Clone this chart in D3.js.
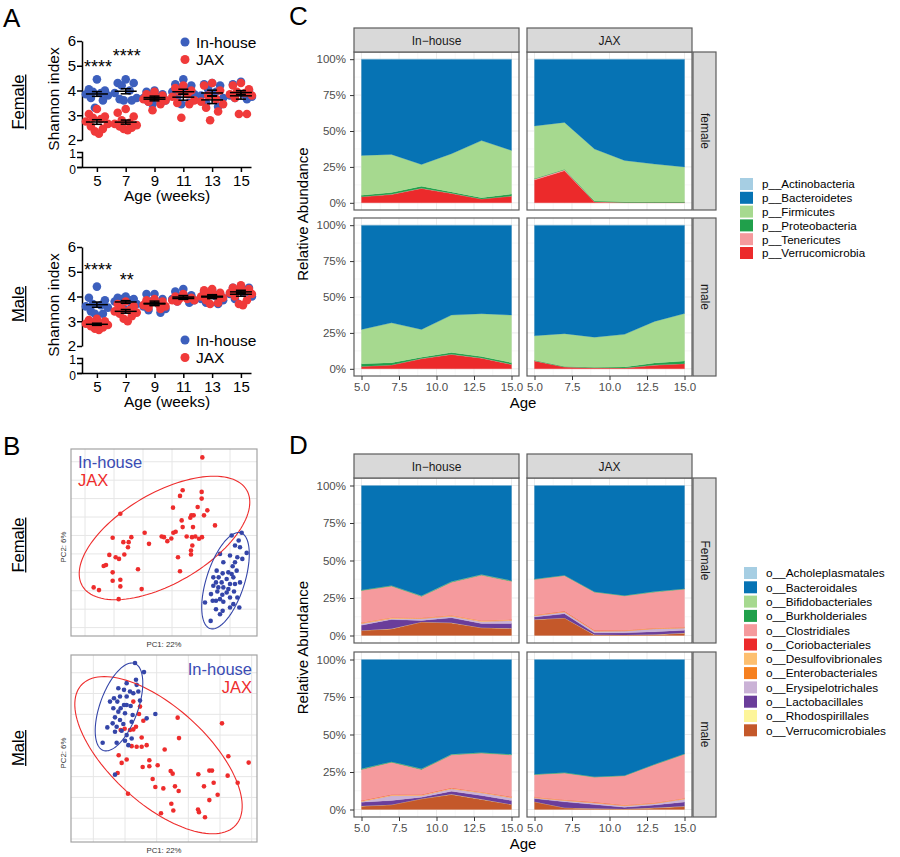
<!DOCTYPE html>
<html>
<head>
<meta charset="utf-8">
<title>Microbiome figure</title>
<script src="https://cdnjs.cloudflare.com/ajax/libs/d3/7.8.5/d3.min.js"></script>
<style>
  body { margin: 0; background: #fff; }
  svg text { font-family: Arial, "Liberation Sans", Helvetica, sans-serif; }
  .axisA path, .axisA line { stroke: #000; stroke-width: 1.5px; }
  .axisA text { font-size: 15px; fill: #000; }
  .axisA.low text { font-size: 12px; }
  .axisC path { display: none; }
  .axisC line { stroke: #333; }
  .axisC text { font-size: 11.5px; fill: #4d4d4d; }
</style>
</head>
<body>
<svg id="figure" width="900" height="857"></svg>
<script>

// ---------------- data ----------------

// Panel A: Shannon index per mouse, one array per week
var weeks = [5, 7, 9, 11, 13, 15];

var shannonFemaleInhouse = [
    [4.45, 4.05, 4.0, 3.95, 3.9, 3.85, 3.8, 3.7, 3.6, 3.3],
    [4.45, 4.3, 4.3, 4.2, 4.0, 3.9, 3.7, 3.65, 3.6, 3.6],
    [4.0, 3.95, 3.85, 3.8, 3.75, 3.7, 3.6, 3.55, 3.5, 3.45],
    [4.45, 4.25, 4.2, 4.1, 4.0, 3.95, 3.85, 3.75, 3.5, 3.45],
    [4.3, 4.25, 4.2, 4.05, 3.95, 3.8, 3.7, 3.5, 3.35],
    [4.35, 4.25, 4.0, 3.9, 3.85, 3.8, 3.75, 3.7, 3.65]
];
var shannonFemaleJax = [
    [3.25, 3.05, 2.95, 2.85, 2.75, 2.65, 2.55, 2.45, 2.35, 2.25, 2.9],
    [3.25, 3.1, 2.95, 2.8, 2.7, 2.65, 2.55, 2.5, 2.45, 2.4, 2.6],
    [3.95, 3.85, 3.8, 3.75, 3.7, 3.65, 3.6, 3.55, 3.45, 3.2],
    [4.2, 4.1, 4.0, 3.95, 3.85, 3.75, 3.6, 3.5, 3.45, 2.9],
    [4.3, 4.2, 4.0, 3.8, 3.65, 3.55, 3.45, 3.3, 3.15, 2.8],
    [4.3, 4.2, 4.05, 3.95, 3.9, 3.85, 3.8, 3.7, 3.05, 3.05]
];
var shannonMaleInhouse = [
    [4.4, 3.95, 3.85, 3.7, 3.65, 3.6, 3.55, 3.4, 3.3, 3.3],
    [4.0, 3.95, 3.9, 3.9, 3.85, 3.8, 3.7, 3.6, 3.5, 3.6],
    [4.1, 4.1, 3.9, 3.8, 3.7, 3.6, 3.5, 3.45, 3.35],
    [4.3, 4.2, 4.05, 4.0, 3.95, 3.9, 3.85, 3.8, 3.75],
    [4.25, 4.2, 4.1, 4.05, 4.0, 3.9, 3.85, 3.75, 3.7],
    [4.4, 4.35, 4.35, 4.25, 4.15, 4.1, 4.0, 3.9]
];
var shannonMaleJax = [
    [3.1, 3.05, 3.0, 2.95, 2.9, 2.85, 2.8, 2.75, 2.7, 2.65, 2.9],
    [3.8, 3.6, 3.5, 3.45, 3.4, 3.35, 3.3, 3.2, 3.1, 3.0, 3.7],
    [3.85, 3.8, 3.75, 3.7, 3.65, 3.6, 3.55, 3.5, 3.9],
    [4.1, 4.0, 3.95, 3.9, 3.85, 3.8, 3.9, 3.85],
    [4.3, 4.25, 4.15, 4.1, 4.05, 3.95, 3.85, 3.75, 3.7, 4.0],
    [4.45, 4.35, 4.3, 4.25, 4.2, 4.15, 4.1, 4.0, 3.85, 3.7, 3.65]
];
var sigFemale = ["****", "****", "", "", "", ""];
var sigMale = ["****", "**", "", "", "", ""];

// Panel B: PCoA scores [PC1, PC2]
var pcoaFemaleJax = [
    [0.115, 0.254], [0.056, 0.156], [0.048, 0.139], [0.113, 0.151], [0.113, 0.131], [0.027, 0.104],
    [0.101, 0.106], [0.130, 0.096], [0.120, 0.081], [0.082, 0.081], [0.089, 0.081], [0.079, 0.074],
    [0.053, 0.066], [0.056, 0.046], [0.087, 0.046], [0.153, 0.051], [-0.131, 0.086], [-0.058, 0.029],
    [-0.098, 0.016], [-0.106, 0.001], [-0.122, 0.001], [-0.154, 0.014], [-0.007, 0.018], [0.000, 0.016],
    [0.010, 0.004], [0.022, 0.012], [0.028, 0.029], [0.035, 0.032], [0.068, 0.018], [0.084, 0.016],
    [0.094, 0.018], [0.105, 0.011], [0.114, 0.016], [-0.045, -0.004], [-0.108, -0.014], [-0.119, -0.036],
    [-0.164, -0.037], [-0.145, -0.044], [-0.135, -0.049], [-0.154, -0.089], [-0.174, -0.067], [-0.181, -0.070],
    [-0.078, -0.080], [0.042, -0.044], [0.081, -0.024], [0.081, -0.036], [0.085, -0.009], [0.048, -0.086],
    [-0.154, -0.114], [-0.131, -0.111], [-0.131, -0.131], [-0.067, -0.139], [-0.211, -0.134], [-0.195, -0.142],
    [-0.136, -0.169]
];
var pcoaFemaleInhouse = [
    [0.203, 0.021], [0.233, 0.029], [0.224, 0.006], [0.213, -0.009], [0.228, -0.014], [0.248, -0.031],
    [0.168, -0.034], [0.198, -0.039], [0.220, -0.044], [0.178, -0.059], [0.213, -0.059], [0.235, -0.049],
    [0.206, -0.071], [0.158, -0.084], [0.193, -0.089], [0.176, -0.092], [0.203, -0.094], [0.218, -0.084],
    [0.148, -0.104], [0.164, -0.104], [0.188, -0.109], [0.208, -0.104], [0.156, -0.119], [0.173, -0.119],
    [0.148, -0.129], [0.198, -0.124], [0.213, -0.124], [0.228, -0.119], [0.163, -0.134], [0.178, -0.134],
    [0.193, -0.139], [0.210, -0.146], [0.160, -0.146], [0.141, -0.154], [0.175, -0.156], [0.188, -0.149],
    [0.168, -0.169], [0.198, -0.164], [0.220, -0.164], [0.146, -0.174], [0.156, -0.174], [0.178, -0.177],
    [0.208, -0.184], [0.156, -0.199], [0.176, -0.204], [0.198, -0.194], [0.226, -0.194], [0.140, -0.234],
    [0.168, -0.214], [0.123, -0.179]
];
var pcoaMaleJax = [
    [-0.092, 0.140], [-0.072, 0.125], [-0.075, 0.103], [-0.062, 0.083], [-0.084, 0.065], [-0.092, 0.057],
    [-0.102, 0.055], [-0.118, 0.059], [-0.130, 0.055], [-0.067, 0.033], [-0.097, 0.007], [-0.082, 0.005],
    [-0.067, 0.005], [-0.052, 0.010], [-0.136, -0.020], [-0.112, -0.033], [-0.127, -0.043], [-0.139, -0.073],
    [-0.064, -0.055], [-0.044, -0.035], [-0.044, -0.053], [-0.019, -0.050], [-0.034, -0.091], [-0.026, -0.115],
    [0.002, -0.003], [0.041, 0.092], [0.045, 0.031], [0.020, -0.067], [0.026, -0.075], [0.033, -0.113],
    [0.044, -0.127], [-0.002, -0.119], [-0.108, -0.135], [0.022, -0.165], [0.028, -0.185], [-0.009, -0.193],
    [0.103, -0.077], [0.120, -0.113], [0.136, -0.066], [0.144, -0.066], [0.149, -0.102], [0.174, 0.075],
    [0.193, -0.023], [0.191, -0.081], [0.221, -0.102], [0.254, -0.042], [0.161, -0.138], [0.136, -0.154],
    [0.102, -0.182], [0.105, -0.190], [0.123, -0.205]
];
var pcoaMaleInhouse = [
    [-0.087, 0.255], [-0.060, 0.228], [-0.084, 0.205], [-0.112, 0.195], [-0.137, 0.180], [-0.120, 0.175],
    [-0.102, 0.170], [-0.077, 0.170], [-0.150, 0.150], [-0.132, 0.155], [-0.112, 0.155], [-0.092, 0.165],
    [-0.140, 0.140], [-0.120, 0.130], [-0.100, 0.127], [-0.152, 0.120], [-0.130, 0.120], [-0.112, 0.130],
    [-0.072, 0.143], [-0.137, 0.110], [-0.117, 0.105], [-0.094, 0.100], [-0.147, 0.093], [-0.132, 0.085],
    [-0.154, 0.075], [-0.142, 0.065], [-0.170, 0.063], [-0.122, 0.073], [-0.097, 0.080], [-0.147, 0.050],
    [-0.127, 0.053], [-0.112, 0.040], [-0.184, 0.017], [-0.142, 0.017], [-0.117, 0.023], [-0.097, 0.030],
    [-0.107, 0.010], [-0.026, 0.103], [-0.052, 0.090], [-0.147, -0.078], [-0.082, 0.190], [-0.162, 0.140]
];
// confidence ellipses: [centre PC1, centre PC2, semi-major, semi-minor, angle in degrees]
var ellipseFemaleJax = [0.0015, 0.0135, 0.285, 0.135, 30];
var ellipseFemaleInhouse = [0.1845, -0.114, 0.15, 0.057, 72];
var ellipseMaleJax = [-0.0165, -0.02, 0.312, 0.144, -42];
var ellipseMaleInhouse = [-0.135, 0.124, 0.138, 0.057, 70];

// Panels C and D: relative abundance (%) by age
var ages = [5, 7, 9, 11, 13, 15];

var phyla = ["p__Actinobacteria", "p__Bacteroidetes", "p__Firmicutes",
    "p__Proteobacteria", "p__Tenericutes", "p__Verrucomicrobia"];
var phylaColors = ["#a6cee3", "#0673b4", "#a6d98f", "#20a04b", "#f59a9d", "#ec2a2b"];

var phylaInhouseFemale = [
    [0.1, 0.1, 0.1, 0.1, 0.1, 0.1],
    [66.9, 66.2, 73.2, 65.7, 56.6, 63.4],
    [27.7, 26.6, 15.1, 26.6, 39.7, 30.4],
    [1.0, 1.2, 1.5, 1.0, 0.9, 1.4],
    [0.1, 0.1, 0.1, 0.1, 0.1, 0.1],
    [4.2, 5.8, 10.0, 6.5, 2.6, 4.6]
];
var phylaJaxFemale = [
    [0.1, 0.1, 0.1, 0.1, 0.1, 0.1],
    [46.4, 43.9, 62.4, 70.4, 72.9, 74.9],
    [36.6, 32.6, 36.2, 28.8, 26.4, 24.4],
    [0.3, 0.3, 0.5, 0.4, 0.3, 0.3],
    [0.8, 0.8, 0.3, 0.1, 0.1, 0.1],
    [15.8, 22.3, 0.5, 0.2, 0.2, 0.2]
];
var phylaInhouseMale = [
    [0.1, 0.1, 0.1, 0.1, 0.1, 0.1],
    [72.5, 67.9, 72.5, 62.5, 61.5, 62.5],
    [23.9, 27.7, 19.3, 26.1, 29.9, 33.1],
    [1.8, 1.6, 1.0, 1.2, 1.0, 1.2],
    [0.1, 0.1, 0.1, 0.1, 0.1, 0.1],
    [1.6, 2.6, 7.0, 10.0, 7.4, 3.0]
];
var phylaJaxMale = [
    [0.1, 0.1, 0.1, 0.1, 0.1, 0.1],
    [76.9, 75.4, 77.9, 75.9, 66.9, 61.4],
    [17.1, 22.8, 20.9, 22.7, 29.0, 33.0],
    [0.3, 0.4, 0.4, 0.7, 1.4, 1.9],
    [0.1, 0.1, 0.1, 0.1, 0.1, 0.1],
    [5.5, 1.2, 0.6, 0.5, 2.5, 3.5]
];

var orders = ["o__Acholeplasmatales", "o__Bacteroidales", "o__Bifidobacteriales", "o__Burkholderiales",
    "o__Clostridiales", "o__Coriobacteriales", "o__Desulfovibrionales", "o__Enterobacteriales",
    "o__Erysipelotrichales", "o__Lactobacillales", "o__Rhodospirillales", "o__Verrucomicrobiales"];
var orderColors = ["#a6cee3", "#0673b4", "#a6d98f", "#20a04b", "#f59a9d", "#ec2a2b",
    "#fdbf6f", "#f6801f", "#cab2d6", "#6a3d9a", "#fdf59a", "#c4582a"];

var ordersInhouseFemale = [
    [0.05, 0.05, 0.05, 0.05, 0.05, 0.05],
    [69.5, 66.6, 73.3, 64.0, 59.3, 63.3],
    [0.05, 0.05, 0.05, 0.05, 0.05, 0.05],
    [0.3, 0.3, 0.3, 0.3, 0.3, 0.3],
    [21.3, 20.9, 14.2, 22.0, 30.2, 25.5],
    [0.05, 0.05, 0.05, 0.05, 0.05, 0.05],
    [0.5, 0.6, 0.4, 0.5, 0.6, 0.5],
    [0.1, 0.1, 0.1, 0.1, 0.1, 0.1],
    [1.1, 0.6, 1.3, 1.1, 1.3, 2.0],
    [3.5, 6.2, 1.0, 3.3, 2.8, 3.2],
    [0.1, 0.1, 0.1, 0.1, 0.1, 0.1],
    [3.3, 4.4, 8.9, 8.4, 5.1, 4.7]
];
var ordersJaxFemale = [
    [0.05, 0.05, 0.05, 0.05, 0.05, 0.05],
    [62.3, 59.7, 70.7, 73.2, 70.7, 68.7],
    [0.05, 0.05, 0.05, 0.05, 0.05, 0.05],
    [0.2, 0.2, 0.2, 0.2, 0.2, 0.2],
    [23.7, 23.7, 25.5, 22.9, 24.0, 25.4],
    [0.05, 0.05, 0.05, 0.05, 0.05, 0.05],
    [0.4, 0.4, 0.4, 0.4, 0.4, 0.4],
    [0.1, 0.1, 0.1, 0.1, 0.1, 0.1],
    [0.9, 1.2, 1.3, 1.2, 2.0, 1.5],
    [1.7, 2.8, 1.1, 1.4, 1.9, 1.9],
    [0.1, 0.1, 0.1, 0.1, 0.1, 0.1],
    [10.5, 11.6, 0.4, 0.3, 0.5, 1.5]
];
var ordersInhouseMale = [
    [0.05, 0.05, 0.05, 0.05, 0.05, 0.05],
    [72.9, 68.0, 72.9, 63.2, 62.0, 63.2],
    [0.05, 0.05, 0.05, 0.05, 0.05, 0.05],
    [0.3, 0.3, 0.3, 0.3, 0.3, 0.3],
    [20.8, 21.6, 16.8, 22.0, 25.9, 28.0],
    [0.05, 0.05, 0.05, 0.05, 0.05, 0.05],
    [0.5, 0.5, 0.5, 0.5, 0.5, 0.5],
    [0.1, 0.1, 0.1, 0.1, 0.1, 0.1],
    [0.4, 3.3, 1.1, 1.6, 1.8, 1.8],
    [2.6, 2.8, 1.0, 2.1, 2.5, 2.6],
    [0.1, 0.1, 0.1, 0.1, 0.1, 0.1],
    [2.2, 3.1, 7.1, 10.0, 6.7, 3.3]
];
var ordersJaxMale = [
    [0.05, 0.05, 0.05, 0.05, 0.05, 0.05],
    [76.6, 75.5, 78.3, 77.4, 69.9, 62.9],
    [0.05, 0.05, 0.05, 0.05, 0.05, 0.05],
    [0.2, 0.2, 0.2, 0.2, 0.2, 0.2],
    [15.0, 17.9, 16.7, 19.5, 25.5, 29.5],
    [0.05, 0.05, 0.05, 0.05, 0.05, 0.05],
    [0.4, 0.4, 0.4, 0.4, 0.4, 0.4],
    [0.1, 0.1, 0.1, 0.1, 0.1, 0.1],
    [0.5, 0.9, 1.1, 1.0, 1.0, 2.0],
    [2.1, 3.9, 2.7, 1.1, 1.9, 2.9],
    [0.1, 0.1, 0.1, 0.1, 0.1, 0.1],
    [5.1, 1.1, 0.5, 0.3, 1.0, 2.0]
];

// ---------------- drawing ----------------

var svg = d3.select("#figure");
var BLUE = "#3c5fbd", RED = "#f03a3a";

/**
 * Big panel letter (A, B, C, D)
 */
function panelLetter(txt, x, y){
    svg.append("text").attr("x", x).attr("y", y)
        .attr("font-size", 26).text(txt);
}

/**
 * Rotated, underlined sex label at the left of panels A and B
 */
function sexLabel(txt, bx, cy){
    var t = svg.append("text")
        .attr("transform", "translate(" + bx + "," + cy + ") rotate(-90)")
        .attr("text-anchor", "middle")
        .attr("font-size", 16.5)
        .text(txt);
    var w = t.node().getComputedTextLength();
    svg.append("line")
        .attr("x1", bx + 2.2).attr("x2", bx + 2.2)
        .attr("y1", cy - w / 2).attr("y2", cy + w / 2)
        .attr("stroke", "#000").attr("stroke-width", 1.3);
}

/**
 * Constructor for one Shannon index dot plot (panel A)
 */
function ShannonPlot(dy, inhouse, jax, sig, sigLevels, legendY){
    var self = this;
    self.g = svg.append("g").attr("transform", "translate(0," + dy + ")");
    self.x = d3.scaleLinear().domain([4, 15.7]).range([82.5, 251]);
    self.yTop = d3.scaleLinear().domain([2, 6]).range([140, 41]);
    self.yLow = d3.scaleLinear().domain([0, 1.5]).range([167, 152]);
    self.draw(inhouse, jax, sig, sigLevels, legendY);
}

ShannonPlot.prototype.draw = function(inhouse, jax, sig, sigLevels, legendY){
    var self = this;
    var g = self.g;

    g.append("g").attr("class", "axisA").attr("transform", "translate(82,0)")
        .call(d3.axisLeft(self.yTop).tickValues([2, 3, 4, 5, 6]).tickFormat(d3.format("d"))
            .tickSize(5).tickSizeOuter(0).tickPadding(1));
    var low = g.append("g").attr("class", "axisA low").attr("transform", "translate(82,0)")
        .call(d3.axisLeft(self.yLow).tickValues([0, 1]).tickFormat(d3.format("d"))
            .tickSize(5).tickSizeOuter(5).tickPadding(1));
    // the two labels under the break sit tight together, pull them apart a little
    low.selectAll(".tick text").attr("dy", function(d){ return d == 1 ? "0.05em" : "0.5em"; });
    g.append("g").attr("class", "axisA").attr("transform", "translate(0,167)")
        .call(d3.axisBottom(self.x).tickValues(weeks).tickSize(5).tickSizeOuter(0).tickPadding(3));

    g.append("text")
        .attr("transform", "translate(59,99) rotate(-90)")
        .attr("text-anchor", "middle").attr("font-size", 15.5)
        .text("Shannon index");
    g.append("text")
        .attr("x", 167).attr("y", 201)
        .attr("text-anchor", "middle").attr("font-size", 15.5)
        .text("Age (weeks)");

    // jittered dots, spread sideways from the column centre
    var spread = [0, -8, 8, -4, 4, -11, 11, -6, 6, -2, 2, -9];
    var groups = [{vals: inhouse, color: BLUE}, {vals: jax, color: RED}];
    groups.forEach(function(grp){
        var pts = [];
        grp.vals.forEach(function(v, i){
            v.slice().sort(d3.descending).forEach(function(val, j){
                pts.push({week: weeks[i], value: val, off: spread[j % spread.length]});
            });
        });
        g.selectAll(null).data(pts).enter().append("circle")
            .attr("cx", function(d){ return self.x(d.week) + d.off; })
            .attr("cy", function(d){ return self.yTop(d.value); })
            .attr("r", 4.3)
            .attr("fill", grp.color);
    });

    // mean +- SEM bars
    groups.forEach(function(grp){
        grp.vals.forEach(function(v, i){
            var m = d3.mean(v);
            var se = d3.deviation(v) / Math.sqrt(v.length);
            var cx = self.x(weeks[i]);
            var bar = g.append("g").attr("stroke", "#000").attr("stroke-width", 1.5);
            bar.append("line").attr("x1", cx - 11).attr("x2", cx + 11)
                .attr("y1", self.yTop(m)).attr("y2", self.yTop(m));
            bar.append("line").attr("x1", cx).attr("x2", cx)
                .attr("y1", self.yTop(m - se)).attr("y2", self.yTop(m + se));
            [m - se, m + se].forEach(function(e){
                bar.append("line").attr("x1", cx - 5).attr("x2", cx + 5)
                    .attr("y1", self.yTop(e)).attr("y2", self.yTop(e));
            });
        });
    });

    // significance stars
    sig.forEach(function(s, i){
        if (s == "") return;
        g.append("text")
            .attr("x", self.x(weeks[i]) + 1)
            .attr("y", self.yTop(sigLevels[i]) + 10.5)
            .attr("text-anchor", "middle")
            .attr("font-size", 18)
            .text(s);
    });

    // legend
    [["In-house", BLUE], ["JAX", RED]].forEach(function(l, i){
        var ly = legendY + i * 17.5;
        g.append("circle").attr("cx", 185).attr("cy", ly).attr("r", 4.5).attr("fill", l[1]);
        g.append("text").attr("x", 196).attr("y", ly + 5.5)
            .attr("font-size", 15.5).text(l[0]);
    });
};

/**
 * Constructor for one PCoA scatter with ellipses (panel B)
 */
function PcoaPlot(top, jaxPts, inPts, jaxEll, inEll, gridX, gridY, legend){
    var self = this;
    self.top = top;
    self.bottom = top + 187;
    self.x = d3.scaleLinear().domain([-0.279, 0.279]).range([71, 257]);
    self.y = d3.scaleLinear().domain([-0.279, 0.279]).range([self.bottom, self.top]);
    self.g = svg.append("g");
    self.draw(jaxPts, inPts, jaxEll, inEll, gridX, gridY, legend);
}

PcoaPlot.prototype.ellipsePath = function(e){
    var self = this;
    var th = e[4] * Math.PI / 180;
    var pts = d3.range(0, 2 * Math.PI, Math.PI / 60).map(function(t){
        var ex = e[2] * Math.cos(t), ey = e[3] * Math.sin(t);
        return [e[0] + ex * Math.cos(th) - ey * Math.sin(th),
                e[1] + ex * Math.sin(th) + ey * Math.cos(th)];
    });
    return d3.line()
        .x(function(d){ return self.x(d[0]); })
        .y(function(d){ return self.y(d[1]); })
        .curve(d3.curveLinearClosed)(pts);
};

PcoaPlot.prototype.draw = function(jaxPts, inPts, jaxEll, inEll, gridX, gridY, legend){
    var self = this;
    var g = self.g;

    var grid = g.append("g").attr("stroke", "#e6e6e6").attr("stroke-width", 1);
    gridX.forEach(function(v){
        grid.append("line").attr("x1", self.x(v)).attr("x2", self.x(v))
            .attr("y1", self.top).attr("y2", self.bottom);
    });
    gridY.forEach(function(v){
        grid.append("line").attr("y1", self.y(v)).attr("y2", self.y(v))
            .attr("x1", 71).attr("x2", 257);
    });

    g.append("rect").attr("x", 71).attr("y", self.top)
        .attr("width", 186).attr("height", self.bottom - self.top)
        .attr("fill", "none").attr("stroke", "#a3a3a3").attr("stroke-width", 1.2);

    [[jaxPts, "#ee2c2c"], [inPts, "#3445a8"]].forEach(function(s){
        g.selectAll(null).data(s[0]).enter().append("circle")
            .attr("cx", function(d){ return self.x(d[0]); })
            .attr("cy", function(d){ return self.y(d[1]); })
            .attr("r", 2.3).attr("fill", s[1]);
    });

    g.append("path").attr("d", self.ellipsePath(jaxEll))
        .attr("fill", "none").attr("stroke", "#ee2c2c").attr("stroke-width", 1.1);
    g.append("path").attr("d", self.ellipsePath(inEll))
        .attr("fill", "none").attr("stroke", "#3445a8").attr("stroke-width", 1.1);

    g.append("text").attr("x", 164).attr("y", self.bottom + 11)
        .attr("text-anchor", "middle").attr("font-size", 7.8).attr("fill", "#333")
        .text("PC1: 22%");
    g.append("text")
        .attr("transform", "translate(66," + (self.top + 98) + ") rotate(-90)")
        .attr("text-anchor", "middle").attr("font-size", 7.8).attr("fill", "#333")
        .text("PC2: 6%");

    g.append("text").attr("x", legend.x).attr("y", legend.y)
        .attr("text-anchor", legend.anchor).attr("font-size", 16.5).attr("fill", "#3a4cb4")
        .text("In-house");
    g.append("text").attr("x", legend.x).attr("y", legend.y + 18)
        .attr("text-anchor", legend.anchor).attr("font-size", 16.5).attr("fill", "#ee2c2c")
        .text("JAX");
};

/**
 * Constructor for a faceted stacked-area chart (panels C and D)
 */
function AbundancePlot(cfg){
    var self = this;
    self.cfg = cfg;
    self.cols = [[354, 519], [527, 692]];
    self.colNames = ["In\u2212house", "JAX"];
    self.g = svg.append("g");
    self.draw();
}

AbundancePlot.prototype.draw = function(){
    var self = this;
    var cfg = self.cfg;
    var g = self.g;
    var keys = cfg.keys.slice().reverse();
    var color = d3.scaleOrdinal().domain(cfg.keys).range(cfg.colors);
    var stack = d3.stack().keys(keys).offset(d3.stackOffsetExpand);

    cfg.facets.forEach(function(row, r){
        var top = cfg.rowTops[r], bottom = top + cfg.rowH;
        var y = d3.scaleLinear().domain([-0.05, 1.05]).range([bottom, top]);

        row.forEach(function(facetData, c){
            var x0 = self.cols[c][0], x1 = self.cols[c][1];
            var x = d3.scaleLinear().domain([4.5, 15.5]).range([x0, x1]);

            var table = ages.map(function(a, i){
                var o = {age: a};
                cfg.keys.forEach(function(k, j){ o[k] = facetData[j][i]; });
                return o;
            });
            var series = stack(table);

            var pg = g.append("g");
            // grid
            [0.125, 0.375, 0.625, 0.875].forEach(function(v){
                pg.append("line").attr("x1", x0).attr("x2", x1).attr("y1", y(v)).attr("y2", y(v))
                    .attr("stroke", "#f4f4f4").attr("stroke-width", 0.6);
            });
            [6.25, 8.75, 11.25, 13.75].forEach(function(v){
                pg.append("line").attr("y1", top).attr("y2", bottom).attr("x1", x(v)).attr("x2", x(v))
                    .attr("stroke", "#f4f4f4").attr("stroke-width", 0.6);
            });
            [0, 0.25, 0.5, 0.75, 1].forEach(function(v){
                pg.append("line").attr("x1", x0).attr("x2", x1).attr("y1", y(v)).attr("y2", y(v))
                    .attr("stroke", "#ebebeb").attr("stroke-width", 1);
            });
            [5, 7.5, 10, 12.5, 15].forEach(function(v){
                pg.append("line").attr("y1", top).attr("y2", bottom).attr("x1", x(v)).attr("x2", x(v))
                    .attr("stroke", "#ebebeb").attr("stroke-width", 1);
            });

            var area = d3.area()
                .x(function(d){ return x(d.data.age); })
                .y0(function(d){ return y(d[0]); })
                .y1(function(d){ return y(d[1]); });
            pg.selectAll(null).data(series).enter().append("path")
                .attr("d", area)
                .attr("fill", function(d){ return color(d.key); })
                .attr("stroke", function(d){ return color(d.key); })
                .attr("stroke-width", 0.25);

            pg.append("rect").attr("x", x0).attr("y", top)
                .attr("width", x1 - x0).attr("height", cfg.rowH)
                .attr("fill", "none").attr("stroke", "#5c5c5c").attr("stroke-width", 1.2);

            if (c == 0){
                pg.append("g").attr("class", "axisC").attr("transform", "translate(" + x0 + ",0)")
                    .call(d3.axisLeft(y).tickValues([0, 0.25, 0.5, 0.75, 1])
                        .tickFormat(d3.format(".0%")).tickSize(4).tickPadding(4));
            }
            if (r == cfg.facets.length - 1){
                pg.append("g").attr("class", "axisC").attr("transform", "translate(0," + bottom + ")")
                    .call(d3.axisBottom(x).tickValues([5, 7.5, 10, 12.5, 15])
                        .tickFormat(d3.format(".1f")).tickSize(4).tickPadding(3));
            }
            if (r == 0){
                g.append("rect").attr("x", x0).attr("y", cfg.stripTop)
                    .attr("width", x1 - x0).attr("height", top - cfg.stripTop)
                    .attr("fill", "#d9d9d9").attr("stroke", "#5c5c5c").attr("stroke-width", 1.2);
                g.append("text").attr("x", (x0 + x1) / 2).attr("y", cfg.stripTop + 16.5)
                    .attr("text-anchor", "middle").attr("font-size", 12).attr("fill", "#1a1a1a")
                    .text(self.colNames[c]);
            }
        });

        // row strip on the right
        g.append("rect").attr("x", 693).attr("y", top)
            .attr("width", 23).attr("height", cfg.rowH)
            .attr("fill", "#d9d9d9").attr("stroke", "#5c5c5c").attr("stroke-width", 1.2);
        g.append("text")
            .attr("transform", "translate(700.5," + (top + cfg.rowH / 2) + ") rotate(90)")
            .attr("text-anchor", "middle").attr("font-size", 12).attr("fill", "#1a1a1a")
            .text(cfg.rowLabels[r]);
    });

    var last = cfg.rowTops[cfg.rowTops.length - 1] + cfg.rowH;
    g.append("text").attr("x", 523).attr("y", last + 32)
        .attr("text-anchor", "middle").attr("font-size", 15).text("Age");
    g.append("text")
        .attr("transform", "translate(308," + ((cfg.rowTops[0] + last) / 2) + ") rotate(-90)")
        .attr("text-anchor", "middle").attr("font-size", 15).text("Relative Abundance");

    // legend
    cfg.keys.forEach(function(k, i){
        var cy = cfg.legendTop + i * cfg.legendStep;
        g.append("rect").attr("x", cfg.legendX).attr("y", cy - 6)
            .attr("width", 13).attr("height", 12).attr("fill", color(k));
        g.append("text").attr("x", cfg.legendX + 22).attr("y", cy + 4.3)
            .attr("font-size", cfg.legendFont).text(k);
    });
};

// ---- panel A ----
panelLetter("A", 3, 27);
sexLabel("Female", 23.5, 102);
sexLabel("Male", 23.5, 304);
new ShannonPlot(0, shannonFemaleInhouse, shannonFemaleJax, sigFemale, [5.15, 5.56], 42);
new ShannonPlot(206, shannonMaleInhouse, shannonMaleJax, sigMale, [5.27, 4.83], 134);

// ---- panel B ----
panelLetter("B", 3, 455);
sexLabel("Female", 23.5, 545);
sexLabel("Male", 23.5, 748);
new PcoaPlot(449, pcoaFemaleJax, pcoaFemaleInhouse, ellipseFemaleJax, ellipseFemaleInhouse,
    d3.range(-0.237, 0.279, 0.087), d3.range(-0.254, 0.279, 0.055),
    {x: 78, y: 468, anchor: "start"});
new PcoaPlot(655, pcoaMaleJax, pcoaMaleInhouse, ellipseMaleJax, ellipseMaleInhouse,
    d3.range(-0.212, 0.279, 0.095), d3.range(-0.270, 0.279, 0.062),
    {x: 252, y: 675, anchor: "end"});

// ---- panel C ----
panelLetter("C", 289, 25);
new AbundancePlot({
    keys: phyla, colors: phylaColors,
    facets: [[phylaInhouseFemale, phylaJaxFemale], [phylaInhouseMale, phylaJaxMale]],
    rowLabels: ["female", "male"],
    stripTop: 28, rowTops: [52, 218], rowH: 158,
    legendX: 740, legendTop: 184, legendStep: 13.8, legendFont: 11.6
});

// ---- panel D ----
panelLetter("D", 289, 454);
new AbundancePlot({
    keys: orders, colors: orderColors,
    facets: [[ordersInhouseFemale, ordersJaxFemale], [ordersInhouseMale, ordersJaxMale]],
    rowLabels: ["Female", "male"],
    stripTop: 454, rowTops: [478, 652], rowH: 165,
    legendX: 744, legendTop: 573, legendStep: 14.3, legendFont: 11.8
});

</script>
</body>
</html>
